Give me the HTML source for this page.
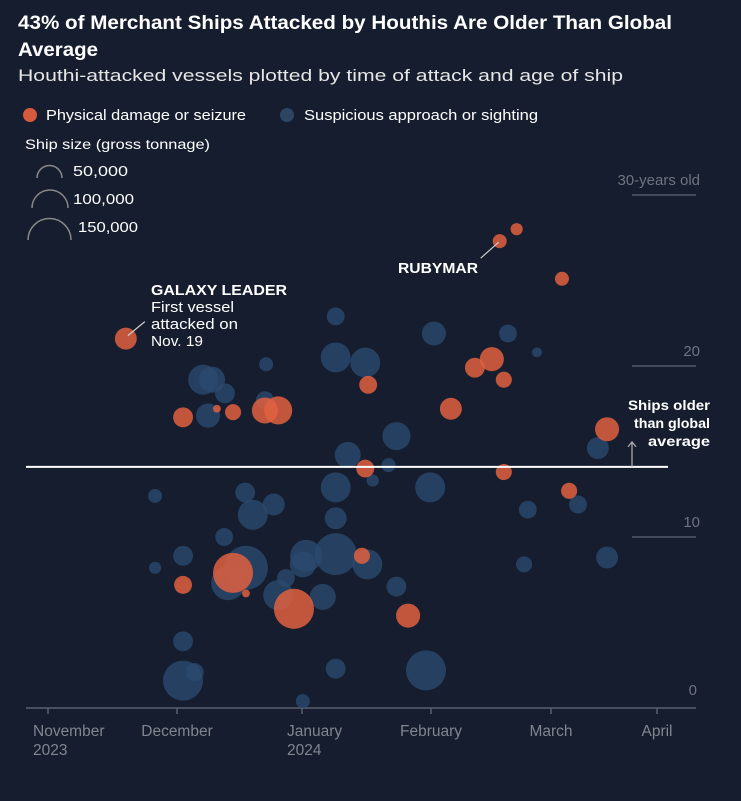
<!DOCTYPE html>
<html><head><meta charset="utf-8"><style>
body{margin:0;background:#151d2e;width:741px;height:796px;overflow:hidden;font-family:"Liberation Sans",Arial,sans-serif;}
svg text{font-family:"Liberation Sans",Arial,sans-serif;}
</style></head><body>
<svg id="c" width="741" height="796">
<text x="18" y="29" fill="#fff" font-size="19.5" font-weight="bold" textLength="654" lengthAdjust="spacingAndGlyphs">43% of Merchant Ships Attacked by Houthis Are Older Than Global</text>
<text x="18" y="56" fill="#fff" font-size="19.5" font-weight="bold" textLength="80" lengthAdjust="spacingAndGlyphs">Average</text>
<text x="18" y="81" fill="#e6e6e6" font-size="17" textLength="605" lengthAdjust="spacingAndGlyphs">Houthi-attacked vessels plotted by time of attack and age of ship</text>
<circle cx="30" cy="115" r="7" fill="#d65a3c"/>
<text x="46" y="120" fill="#fff" font-size="14.5" textLength="200" lengthAdjust="spacingAndGlyphs">Physical damage or seizure</text>
<circle cx="287" cy="115" r="7" fill="#2c4562"/>
<text x="304" y="120" fill="#fff" font-size="14.5" textLength="234" lengthAdjust="spacingAndGlyphs">Suspicious approach or sighting</text>
<text x="25" y="149" fill="#fff" font-size="13.5" textLength="185" lengthAdjust="spacingAndGlyphs">Ship size (gross tonnage)</text>
<path d="M37,178 A12.4,12.4 0 0 1 62,178" fill="none" stroke="#888" stroke-width="1.5"/>
<text x="73" y="176" fill="#fff" font-size="14.5" textLength="55" lengthAdjust="spacingAndGlyphs">50,000</text>
<path d="M32,208 A17.6,17.6 0 0 1 68,208" fill="none" stroke="#888" stroke-width="1.5"/>
<text x="73" y="204" fill="#fff" font-size="14.5" textLength="61" lengthAdjust="spacingAndGlyphs">100,000</text>
<path d="M28,240 A21.5,21.5 0 0 1 71,240" fill="none" stroke="#888" stroke-width="1.5"/>
<text x="78" y="232" fill="#fff" font-size="14.5" textLength="60" lengthAdjust="spacingAndGlyphs">150,000</text>
<g id="grid"></g><g id="axis"></g><g id="marks"></g><g id="ann"></g>
</svg>
<script>
// days since Nov 1 2023, age in years, gross tonnage (thousands)
const blueDays=[69.1,69.1,76.2,52.1,36.5,38.7,41.9,37.7,51.8,72.0,78.0,69.1,24.9,46.9,48.8,54.0,69.1,41.7,31.5,24.9,47.1,42.7,62.0,61.2,69.1,76.7,57.0,55.1,66.0,31.5,31.5,34.4,69.1,61.2,92.7,110.6,117.6,83.7,81.8,91.8,115.4,128.9,114.5,137.4,134.7,83.7,90.8];
const blueAge=[22.9,20.5,20.2,20.1,19.2,19.2,18.4,17.1,18.0,14.8,13.3,12.9,12.4,12.6,11.3,11.9,11.1,10.0,8.9,8.2,8.2,7.3,8.9,8.4,9.0,8.4,7.6,6.6,6.5,3.9,1.6,2.1,2.3,0.4,21.9,21.9,20.8,15.9,14.2,12.9,11.6,11.9,8.4,8.8,15.2,7.1,2.2];
const blueTon=[26,73,73,16,73,55,32,47,26,55,12,73,16,32,73,39,39,26,32,12,157,94,83,55,143,73,26,73,55,32,130,26,32,16,47,26,8,64,16,73,26,26,21,39,39,32,130];
const redDays=[18.1,31.5,39.9,43.9,51.8,55.1,76.9,76.2,96.8,102.6,106.7,109.6,108.6,112.7,124.2,137.4,109.6,126.3,31.5,43.9,47.1,59.0,75.4,86.5];
const redAge=[21.6,17.0,17.5,17.3,17.4,17.4,18.9,14.0,17.5,19.9,20.4,19.2,27.3,28.0,25.1,16.3,13.8,12.7,7.2,7.9,6.7,5.8,8.9,5.4];
const redTon=[39,32,5,21,55,64,26,26,39,32,47,21,16,12,16,47,21,21,26,130,5,130,21,47];
const monthLabels=["November","December","January","February","March","April"];
const monthSub=["2023","","2024","","",""];
const monthDays=[0,30,61,92,121,152];
const ageTicks=[10,20,30];
const globalAvg=14.1;

const NS="http://www.w3.org/2000/svg";
const monthPx=[48,177,302,431,551,657];
function xs(d){for(let i=0;i<monthDays.length-1;i++){if(d<=monthDays[i+1]||i==monthDays.length-2){return monthPx[i]+(d-monthDays[i])/(monthDays[i+1]-monthDays[i])*(monthPx[i+1]-monthPx[i]);}}}
function ys(a){return 708-a*17.1;}
function rs(t){return 21.5*Math.sqrt(t/150);}
function mk(tag,attrs,parent){const e=document.createElementNS(NS,tag);for(const k in attrs)e.setAttribute(k,attrs[k]);parent.appendChild(e);return e;}
const grid=document.getElementById('grid'),axis=document.getElementById('axis'),marks=document.getElementById('marks'),ann=document.getElementById('ann');
ageTicks.forEach((v,i)=>{
 const l=mk('line',{x1:632,x2:696,y1:ys(v),y2:ys(v),stroke:'#555c6a','stroke-width':1.5},grid);
 
 
 const t=mk('text',{x:700,y:ys(v)-10,'text-anchor':'end',fill:'#6e7480','font-size':15},grid);
 t.textContent=(v===30?'30-years old':v);
 
 
});
const z=mk('text',{x:697,y:695,'text-anchor':'end',fill:'#6e7480','font-size':15},grid);z.textContent='0';


const ax=mk('line',{x1:26,x2:696,y1:708,y2:708,stroke:'#5a6170','stroke-width':1.5},axis);


monthLabels.forEach((m,i)=>{
 const x=xs(monthDays[i]);
 const tk=mk('line',{x1:x,x2:x,y1:708,y2:714,stroke:'#5a6170','stroke-width':1.5},axis);
 
 
 const left=monthSub[i]!=='';
 const t=mk('text',{x:left?x-15:x,y:736,'text-anchor':left?'start':'middle',fill:'#80858f','font-size':15.5},axis);
 t.textContent=m;
 
 
 if(left){const s=mk('text',{x:x-15,y:755,fill:'#80858f','font-size':15.5},axis);s.textContent=monthSub[i];
 
 }
});
blueDays.forEach((d,i)=>{
 const c=mk('circle',{cx:xs(d),cy:ys(blueAge[i]),r:rs(blueTon[i]),fill:'#2b4a6e','fill-opacity':0.8},marks);
 
 
});
redDays.forEach((d,i)=>{
 const c=mk('circle',{cx:xs(d),cy:ys(redAge[i]),r:rs(redTon[i]),fill:'#e0603f','fill-opacity':0.85},marks);
 
 
});
const g=mk('line',{x1:26,x2:668,y1:ys(globalAvg),y2:ys(globalAvg),stroke:'#fff','stroke-width':2},ann);


const ar=mk('path',{d:`M632,${ys(globalAvg)} L632,${ys(globalAvg)-24} M628,${ys(globalAvg)-20} L632,${ys(globalAvg)-25} L636,${ys(globalAvg)-20}`,stroke:'#aaa','stroke-width':1.3,fill:'none'},ann);


[["Ships older",82],["than global",76],["average",62]].forEach((s,i)=>{
 const t=mk('text',{x:710-s[1],y:410+i*18,fill:'#fff','font-size':13.5,'font-weight':'bold',textLength:s[1],lengthAdjust:'spacingAndGlyphs'},ann);t.textContent=s[0];
 
 
});
const gl=mk('line',{x1:xs(redDays[0])+2,y1:ys(redAge[0])-3,x2:xs(redDays[0])+19,y2:ys(redAge[0])-17,stroke:'#ccc','stroke-width':1.2},ann);


[["GALAXY LEADER",'bold',136],["First vessel",'normal',83],["attacked on",'normal',87],["Nov. 19",'normal',52]].forEach((s,i)=>{
 const t=mk('text',{x:151,y:295+i*17,fill:'#fff','font-size':15,'font-weight':s[1],textLength:s[2],lengthAdjust:'spacingAndGlyphs'},ann);t.textContent=s[0];
 
 
});
const rl=mk('line',{x1:xs(redDays[12])-1,y1:ys(redAge[12])+1,x2:xs(redDays[12])-19,y2:ys(redAge[12])+17,stroke:'#ccc','stroke-width':1.2},ann);


const rt=mk('text',{x:398,y:273,fill:'#fff','font-size':15,'font-weight':'bold',textLength:80,lengthAdjust:'spacingAndGlyphs'},ann);rt.textContent='RUBYMAR';


</script>
</body></html>
